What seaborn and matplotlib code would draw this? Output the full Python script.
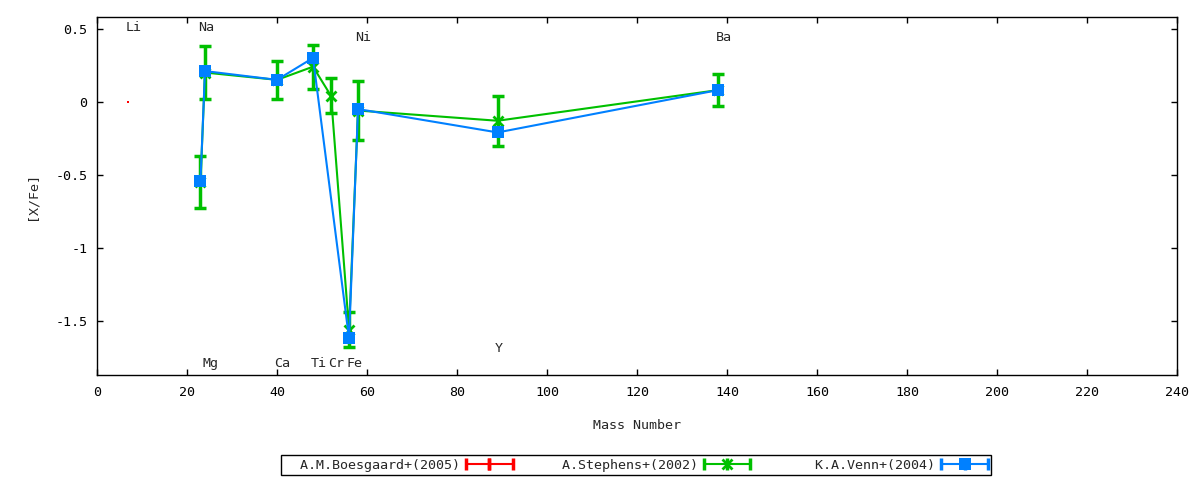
import matplotlib
matplotlib.use("Agg")
import matplotlib.pyplot as plt
import numpy as np
import pandas as pd
import seaborn as sns
from matplotlib.lines import Line2D
from matplotlib.legend_handler import HandlerLine2D

# element labels and their mass numbers
elements = ["Li", "Na", "Mg", "Ca", "Ti", "Cr", "Fe", "Ni", "Y", "Ba"]
element_mass = [7, 23, 24, 40, 48, 52, 56, 58, 89, 138]

# A.M.Boesgaard+(2005)
boesgaard_mass = [7]
boesgaard_xfe = [0.0]
boesgaard_err = [0.0]

# A.Stephens+(2002)
stephens_mass = [23, 24, 40, 48, 52, 56, 58, 89, 138]
stephens_xfe = [-0.55, 0.20, 0.15, 0.24, 0.04, -1.56, -0.06, -0.13, 0.08]
stephens_err = [0.18, 0.18, 0.13, 0.15, 0.12, 0.12, 0.20, 0.17, 0.11]

# K.A.Venn+(2004)
venn_mass = [23, 24, 40, 48, 56, 58, 89, 138]
venn_xfe = [-0.54, 0.21, 0.15, 0.30, -1.62, -0.05, -0.21, 0.08]
venn_err = [0.0, 0.0, 0.0, 0.0, 0.0, 0.0, 0.0, 0.0]

series_names = ["A.M.Boesgaard+(2005)", "A.Stephens+(2002)", "K.A.Venn+(2004)"]

sns.set_theme(style="ticks")
plt.rcParams["font.family"] = ["DejaVu Sans Mono"]
plt.rcParams["font.size"] = 9.6
FS = 9.6

fig = plt.figure(figsize=(12, 4.8), dpi=100)
ax = fig.add_axes([0.0808, 0.21875, 0.9003, 0.7458])

series = [
    (boesgaard_mass, boesgaard_xfe, boesgaard_err),
    (stephens_mass, stephens_xfe, stephens_err),
    (venn_mass, venn_xfe, venn_err),
]
colors = ["#ff0000", "#00c000", "#0080ff"]
markers = ["s", "x", "s"]
marker_sizes = [1.5, 6.5, 8]
marker_widths = [0, 2, 0]

handles = []
handler_map = {}
for i, (name, (mass, xfe, err)) in enumerate(zip(series_names, series)):
    c = colors[i]
    df = pd.DataFrame({"mass": mass, "xfe": xfe, "err": err})
    z = 2 + i
    # zero errors are not drawn (they would only leave a cap dash)
    bars = df[df["err"] > 0]
    if len(bars):
        ax.errorbar(bars["mass"], bars["xfe"], yerr=bars["err"], fmt="none",
                    ecolor=c, elinewidth=2.5, capsize=4, capthick=2.5, zorder=z)
    sns.lineplot(data=df, x="mass", y="xfe", color=c, marker=markers[i],
                 markersize=marker_sizes[i], markeredgecolor=c,
                 markeredgewidth=marker_widths[i], linewidth=1.5, sort=False,
                 estimator=None, ax=ax, zorder=z + 0.5)

    # gnuplot-like legend sample: line, end caps, centre bar and point
    body = Line2D([], [], color=c, lw=1.5)
    caps = Line2D([], [], color=c, lw=0, marker="|", ms=8, mew=2.5)
    mid_bar = Line2D([], [], color=c, lw=0, marker="|", ms=8, mew=2.5)
    if i == 0:
        mid = Line2D([], [], color=c, lw=0, marker="|", ms=8, mew=2.5)
    else:
        mid = Line2D([], [], color=c, lw=0, marker=markers[i],
                     ms=marker_sizes[i], mew=marker_widths[i], mec=c)
    handler_map[caps] = HandlerLine2D(numpoints=2, marker_pad=0)
    handles.append((body, caps, mid_bar, mid))

# element labels above/below the curves
label_y = {"Li": 0.51, "Na": 0.51, "Ni": 0.44, "Ba": 0.44, "Y": -1.69,
           "Mg": -1.79, "Ca": -1.79, "Ti": -1.79, "Cr": -1.79, "Fe": -1.79}
for el, m in zip(elements, element_mass):
    ax.annotate(el, (m, label_y[el]), xytext=(-2, 0), textcoords="offset points",
                ha="left", va="center", fontsize=FS)

ax.set_xlim(0, 240)
ax.set_ylim(-1.87, 0.58)
ax.set_xticks(np.arange(0, 241, 20))
ax.set_yticks([0.5, 0, -0.5, -1, -1.5])
ax.set_yticklabels(["0.5", "0", "-0.5", "-1", "-1.5"])
ax.tick_params(direction="in", length=4, width=1, top=True, right=True,
               colors="black", labelsize=FS)
ax.tick_params(axis="x", pad=8)
ax.tick_params(axis="y", pad=7)
for s in ax.spines.values():
    s.set_visible(True)
    s.set_color("black")
    s.set_linewidth(1)

ax.set_xlabel("Mass Number", fontsize=FS, labelpad=14)
ax.set_ylabel("[X/Fe]", fontsize=FS, labelpad=12)

# right-justify the labels like gnuplot (monospace font)
width = max(len(n) for n in series_names) + 2
labels = [n.rjust(width) for n in series_names]
leg = fig.legend(handles, labels, handler_map=handler_map, ncol=3,
                 loc="center", bbox_to_anchor=(0.53, 0.031),
                 bbox_transform=fig.transFigure, markerfirst=False,
                 handlelength=3.5, handletextpad=0.45, columnspacing=0.68,
                 borderpad=0.25, fancybox=False, framealpha=1,
                 edgecolor="black", fontsize=FS)
leg.get_frame().set_linewidth(1)

fig.savefig("out.png", dpi=100)
